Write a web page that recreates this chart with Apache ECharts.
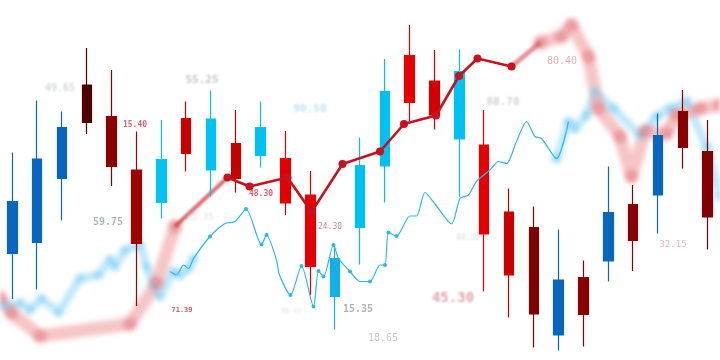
<!DOCTYPE html>
<html><head><meta charset="utf-8">
<script src="https://cdn.jsdelivr.net/npm/echarts@6/dist/echarts.min.js"></script>
<style>
html,body{margin:0;padding:0;background:#fff}
#wrap{position:relative;width:720px;height:360px;overflow:hidden;background:#fff}
.layer{position:absolute;left:0;top:0;width:720px;height:360px}
#blurA{filter:blur(2.6px)}
#blurB{filter:blur(1.3px)}
</style>
</head><body><div id="wrap"><div id="blurA" class="layer"></div><div id="blurB" class="layer"></div><div id="c" class="layer"></div></div>
<script>
// ---- data ----
const categories = ['D1','D2','D3','D4','D5','D6','D7','D8','D9','D10','D11','D12','D13','D14','D15','D16','D17','D18','D19','D20','D21','D22','D23','D24','D25','D26','D27','D28','D29'];
const opens  = [21.3,23.5,36.3,47.5,38.7,23.3,31.5,41.3,38.0,36.3,40.9,31.4,18.7,12.7,26.5,38.8,51.5,49.0,44.2,25.2,17.0, 9.2, 5.0, 9.1,19.8,23.9,33.0,42.5,28.6];
const closes = [31.7,40.2,46.5,55.0,48.7,38.0,40.1,48.3,48.2,43.3,46.5,40.3,33.0,20.3,38.9,53.7,60.9,55.8,57.7,43.0,29.6,26.5,16.0,16.5,29.5,31.1,44.9,49.7,41.7];
const lows   = [12.2,14.1,27.9,45.2,34.8,10.8,28.3,37.7,32.7,33.5,38.5,29.0,13.0, 6.1,19.1,31.5,47.7,46.1,32.7,13.7, 8.5, 2.5, 1.9, 2.7,15.7,17.8,25.3,38.3,22.1];
const highs  = [41.5,51.9,49.7,62.4,58.0,45.7,48.0,51.7,53.9,50.0,51.7,45.8,37.8,23.0,44.5,60.2,67.0,62.0,62.1,50.0,34.3,30.7,26.1,19.9,38.7,35.0,49.3,54.0,48.0];

const redLineX = [45.5,49.9,57.5,62.3,68.5,76.0,80.8,87.2,91.8,95.5,102.3];
const redLineY = [36.5,34.7,36.5,29.6,39.2,41.7,47.2,48.9,56.8,60.3,58.7];

const pinkLeftX = [0,2.3,8.0,26.0,31.3,35.0];
const pinkLeftY = [12.4,9.4,4.8,7.2,15.4,26.7];
const pinkRightX = [108.1,112.3,114.3,117.7,119.7,124.0,126.3,129.0,133.3,135.3,140.0,144.0];
const pinkRightY = [63.5,64.7,67.0,60.7,50.3,44.7,36.7,45.7,45.3,49.0,50.3,51.0];

const blueBlurLeftX = [0,1.3,4.0,6.0,8.3,11.7,16.0,19.7,22.0,23.0,25.0,28.0,29.3,30.7,32.0,34.7,36.0,37.7,38.7];
const blueBlurLeftY = [11.3,10.7,11.4,10.0,12.3,9.5,16.3,17.0,20.1,18.7,22.0,23.0,18.7,14.7,12.7,17.7,17.0,18.3,20.3];
const blueBlurRightX = [111.3,113.7,115.0,117.3,119.0,122.7,128.0,131.3,134.0,137.3,141.3,144.0];
const blueBlurRightY = [40.3,47.7,46.3,49.0,53.7,50.3,45.0,48.7,50.3,51.7,42.7,32.7];

const thinX = [34.0,35.3,36.7,37.7,38.7,42.0,45.0,47.0,49.2,52.3,53.3,55.3,55.9,58.1,60.3,62.7,63.7,64.7,66.7,67.7,70.0,72.0,74.0,76.0,77.0,77.7,79.3,82.0,83.3,85.0,87.0,90.3,92.0,93.7,95.3,98.0,99.7,101.3,103.3,105.3,107.0,108.3,111.3,113.7];
const thinY = [17.7,17.0,19.0,18.3,20.3,24.7,27.3,27.7,30.2,23.1,25.0,20.0,17.0,13.0,18.8,10.7,17.8,16.7,23.0,20.3,17.7,15.7,15.7,19.0,19.0,25.5,24.8,28.8,28.8,33.5,31.2,27.2,32.3,33.0,35.7,38.0,39.7,39.3,43.7,47.7,44.7,44.3,40.3,47.7];
const thinDotIdx = [5,8,9,10,13,14,15,16,17,18,20,22,24,25,26];

const labelTexts = ['49.65','15.40','59.75','71.39','55.25','90.50','48.30','24.30','15.35','38.45','45.35','18.65','45.30','44.29','88.70','80.40','32.15'];
const labelX     = [12.0, 27.0, 21.6, 36.4, 40.4, 62.0, 52.2, 66.0, 71.6, 58.2, 40.0, 76.6, 90.6, 93.6,100.6,112.4,134.6];
const labelY     = [54.4, 47.0, 27.6, 10.0, 56.0, 50.2, 33.2, 26.6, 10.2,  9.8, 28.4,  4.4, 12.4, 24.4, 51.6, 59.8, 23.0];

// ---- styles ----
const BLUE='#0866bd', CYAN='#00c2f2', CYAN2='#12b0e6';
const candleColors = [BLUE,BLUE,BLUE,'#4e0000','#8a0000','#a00000',CYAN,'#c80000',CYAN,'#c40000',CYAN,'#e00000','#e40000',CYAN2,CYAN,CYAN,'#e40000','#d20000',CYAN,'#e80000','#c80000','#7e0000',BLUE,'#880000',BLUE,'#880000',BLUE,'#880000','#820000'];
const labelStyles = [
  {c:'#b4bac0', s:10, w:'normal', l:'soft'},
  {c:'#d04050', s:8, w:'bold', l:'sharp'},
  {c:'#99a2aa', s:10, w:'bold', l:'sharp'},
  {c:'#c03038', s:7, w:'bold', l:'sharp'},
  {c:'#b0b4b8', s:11, w:'bold', l:'soft'},
  {c:'#a8e0f5', s:11, w:'bold', l:'soft'},
  {c:'#c83848', s:8, w:'bold', l:'sharp'},
  {c:'#d06070', s:8, w:'normal', l:'sharp'},
  {c:'#9aa0a8', s:10, w:'bold', l:'sharp'},
  {c:'#dadada', s:7, w:'normal', l:'soft'},
  {c:'#cfcfcf', s:9, w:'normal', l:'soft'},
  {c:'#b8bec4', s:10, w:'normal', l:'sharp'},
  {c:'#dc8c96', s:14, w:'bold', l:'soft'},
  {c:'#cccccc', s:8, w:'normal', l:'soft'},
  {c:'#c4c4c4', s:11, w:'bold', l:'soft'},
  {c:'#dc9aa2', s:10, w:'normal', l:'sharp'},
  {c:'#e4a4ac', s:9, w:'normal', l:'sharp'}
];

const zip = (xs, ys) => xs.map((x, i) => [x, ys[i]]);

const baseAxes = {
  animation: false,
  grid: {left: 0, right: 0, top: 0, bottom: 0},
  xAxis: [
    {type: 'category', data: categories, boundaryGap: true, show: false},
    {type: 'value', min: 0, max: 144, show: false}
  ],
  yAxis: {type: 'value', min: 0, max: 72, show: false}
};

function labelSeries(layer) {
  return {type: 'scatter', xAxisIndex: 1, z: 6, symbolSize: 0, silent: true,
    data: labelTexts.map((t, i) => ({t, i})).filter(o => labelStyles[o.i].l === layer).map(({t, i}) => ({
      value: [labelX[i], labelY[i]],
      label: {show: true, position: 'inside', formatter: t, color: labelStyles[i].c,
        fontSize: labelStyles[i].s, fontWeight: labelStyles[i].w, fontFamily: 'DejaVu Sans Mono'}
    }))};
}

// --- blurred layer: thick pink and light-blue trend lines ---
const pinkStyle = {width: 13, color: 'rgba(238,150,152,0.55)', cap: 'round', join: 'round'};
const pinkItem = {color: 'rgba(222,105,110,0.45)'};
const blueStyle = {width: 8, color: 'rgba(160,222,250,0.7)', cap: 'round', join: 'round'};
const blueItem = {color: 'rgba(140,210,246,0.7)'};

const chartA = echarts.init(document.getElementById('blurA'));
chartA.setOption(Object.assign({}, baseAxes, {
  series: [
    {type: 'line', xAxisIndex: 1, data: zip(blueBlurLeftX, blueBlurLeftY), lineStyle: blueStyle, symbol: 'circle', symbolSize: 9, itemStyle: blueItem, silent: true},
    {type: 'line', xAxisIndex: 1, data: zip(blueBlurRightX, blueBlurRightY), lineStyle: blueStyle, symbol: 'circle', symbolSize: 10, itemStyle: blueItem, silent: true},
    {type: 'line', xAxisIndex: 1, data: zip(pinkLeftX, pinkLeftY), lineStyle: pinkStyle, symbol: 'circle', symbolSize: 14, itemStyle: pinkItem, silent: true},
    {type: 'line', xAxisIndex: 1, data: zip(pinkRightX, pinkRightY), lineStyle: pinkStyle, symbol: 'circle', symbolSize: 14, itemStyle: pinkItem, silent: true}
  ]
}));

// --- slightly blurred layer: transitions and soft labels ---
const chartB = echarts.init(document.getElementById('blurB'));
chartB.setOption(Object.assign({}, baseAxes, {
  series: [
    {type: 'line', xAxisIndex: 1, data: [[pinkLeftX[pinkLeftX.length-1], pinkLeftY[pinkLeftY.length-1]], [redLineX[0], redLineY[0]]],
      lineStyle: {width: 4, color: 'rgba(205,45,55,0.7)'}, symbol: 'none', silent: true},
    {type: 'line', xAxisIndex: 1, data: [[redLineX[redLineX.length-1], redLineY[redLineY.length-1]], [pinkRightX[0], pinkRightY[0]]],
      lineStyle: {width: 5, color: 'rgba(215,80,90,0.6)'}, symbol: 'none', silent: true},
    labelSeries('soft')
  ]
}));

// --- sharp layer ---
const candleData = opens.map((o, i) => ({
  value: [o, closes[i], lows[i], highs[i]],
  itemStyle: {color: candleColors[i], color0: candleColors[i], borderColor: candleColors[i], borderColor0: candleColors[i], borderWidth: 1.2}
}));
const chart = echarts.init(document.getElementById('c'));
chart.setOption(Object.assign({}, baseAxes, {
  series: [
    {type: 'candlestick', xAxisIndex: 0, z: 3, barWidth: 10, data: candleData, silent: true},
    {type: 'line', xAxisIndex: 1, z: 4, data: zip(thinX, thinY), smooth: 0.25,
      lineStyle: {width: 1.2, color: '#2ab8ee'}, symbol: 'circle',
      symbolSize: (v, p) => thinDotIdx.includes(p.dataIndex) ? 4 : 0,
      itemStyle: {color: '#2ab8ee'}, showSymbol: true, silent: true},
    {type: 'line', xAxisIndex: 1, z: 5, data: zip(redLineX, redLineY),
      lineStyle: {width: 2.6, color: '#c8101e'}, symbol: 'circle', symbolSize: 8,
      itemStyle: {color: '#c8101e'}, silent: true},
    labelSeries('sharp')
  ]
}));
</script></body></html>
